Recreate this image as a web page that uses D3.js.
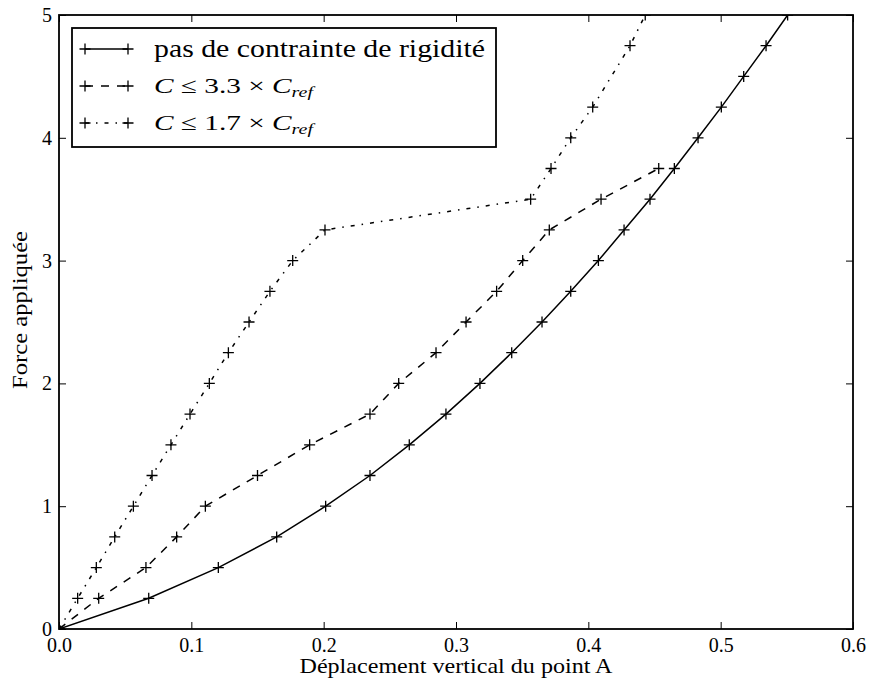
<!DOCTYPE html>
<html>
<head>
<meta charset="utf-8">
<script src="https://cdn.jsdelivr.net/npm/d3@7"></script>
<style>
  body { margin: 0; background: #fff; }
  text { font-family: "Liberation Serif", "DejaVu Serif", serif; fill: #000; }
</style>
</head>
<body>
<div id="chart"></div>
<script>
// data
const forceSolid = [0, 0.25, 0.5, 0.75, 1, 1.25, 1.5, 1.75, 2, 2.25, 2.5, 2.75, 3, 3.25, 3.5, 3.75, 4, 4.25, 4.5, 4.75, 5];
const dispSolid = [0, 0.0678, 0.1204, 0.1645, 0.2015, 0.235, 0.2647, 0.2924, 0.3181, 0.3421, 0.365, 0.3867, 0.4076, 0.427, 0.4466, 0.465, 0.4829, 0.5005, 0.5174, 0.5343, 0.5506];

const forceDashed = [0, 0.25, 0.5, 0.75, 1, 1.25, 1.5, 1.75, 2, 2.25, 2.5, 2.75, 3, 3.25, 3.5, 3.75];
const dispDashed = [0, 0.030, 0.0657, 0.0889, 0.1106, 0.150, 0.1894, 0.235, 0.2567, 0.2849, 0.3076, 0.3307, 0.3504, 0.3705, 0.4096, 0.4532];

const forceDashDot = [0, 0.25, 0.5, 0.75, 1, 1.25, 1.5, 1.75, 2, 2.25, 2.5, 2.75, 3, 3.25, 3.5, 3.75, 4, 4.25, 4.75, 5];
const dispDashDot = [0, 0.0141, 0.0282, 0.0421, 0.0562, 0.0703, 0.0846, 0.099, 0.1136, 0.128, 0.1436, 0.1594, 0.1766, 0.201, 0.3564, 0.3718, 0.3867, 0.4033, 0.4315, 0.443];

const xTicks = [0, 0.1, 0.2, 0.3, 0.4, 0.5, 0.6];
const yTicks = [0, 1, 2, 3, 4, 5];

const series = [
  { name: "solid", x: dispSolid, y: forceSolid, dash: null },
  { name: "dashed", x: dispDashed, y: forceDashed, dash: "8,8" },
  { name: "dashdot", x: dispDashDot, y: forceDashDot, dash: "4,7,1.5,7" }
];

const margin = { top: 15, right: 19, bottom: 63, left: 59 };
const width = 872 - margin.left - margin.right;
const height = 692 - margin.top - margin.bottom;

const svg = d3.select("#chart")
  .append("svg")
  .attr("width", 872)
  .attr("height", 692)
  .append("g")
  .attr("transform", `translate(${margin.left}, ${margin.top})`);

const xScale = d3.scaleLinear().domain([0, 0.6]).range([0, width]);
const yScale = d3.scaleLinear().domain([0, 5]).range([height, 0]);

svg.append("defs").append("clipPath")
  .attr("id", "plot-clip")
  .append("rect")
  .attr("width", width)
  .attr("height", height);

// axes, ticks pointing inward on all four sides
const xAxis = d3.axisBottom(xScale).tickValues(xTicks).tickFormat(d3.format(".1f"))
  .tickSizeInner(-7).tickSizeOuter(0).tickPadding(9);
const yAxis = d3.axisLeft(yScale).tickValues(yTicks).tickFormat(d3.format("d"))
  .tickSizeInner(-7).tickSizeOuter(0).tickPadding(7);

svg.append("g")
  .attr("transform", `translate(0, ${height})`)
  .call(xAxis);
svg.append("g").call(yAxis);
svg.append("g")
  .call(d3.axisTop(xScale).tickValues(xTicks).tickFormat("").tickSizeInner(-7).tickSizeOuter(0));
svg.append("g")
  .attr("transform", `translate(${width}, 0)`)
  .call(d3.axisRight(yScale).tickValues(yTicks).tickFormat("").tickSizeInner(-7).tickSizeOuter(0));

svg.selectAll(".domain").remove();
svg.selectAll(".tick line").attr("stroke", "#000").attr("stroke-width", 1);
svg.selectAll(".tick text")
  .style("font-family", "'Liberation Serif', serif")
  .style("font-size", "20px")
  .attr("fill", "#000");

// lines and markers
const line = d3.line()
  .x(d => xScale(d[0]))
  .y(d => yScale(d[1]));

const plus = "M-5.5,0H5.5M0,-5.5V5.5";

const plot = svg.append("g").attr("clip-path", "url(#plot-clip)");

series.forEach(s => {
  const pts = s.x.map((v, i) => [v, s.y[i]]);
  plot.append("path")
    .datum(pts)
    .attr("fill", "none")
    .attr("stroke", "#000")
    .attr("stroke-width", 1.5)
    .attr("stroke-dasharray", s.dash)
    .attr("d", line);
  plot.selectAll(null)
    .data(pts)
    .join("path")
    .attr("transform", d => `translate(${xScale(d[0])}, ${yScale(d[1])})`)
    .attr("d", plus)
    .attr("stroke", "#000")
    .attr("stroke-width", 1.3)
    .attr("fill", "none");
});

// frame
svg.append("rect")
  .attr("width", width)
  .attr("height", height)
  .attr("fill", "none")
  .attr("stroke", "#000")
  .attr("stroke-width", 1.8);

// axis labels
svg.append("text")
  .attr("x", width / 2)
  .attr("y", height + 44)
  .style("text-anchor", "middle")
  .style("font-size", "21px")
  .attr("textLength", 313)
  .attr("lengthAdjust", "spacingAndGlyphs")
  .text("Déplacement vertical du point A");

svg.append("text")
  .attr("transform", `translate(${27 - margin.left}, ${310 - margin.top}) rotate(-90)`)
  .style("text-anchor", "middle")
  .style("font-size", "21px")
  .attr("textLength", 158)
  .attr("lengthAdjust", "spacingAndGlyphs")
  .text("Force appliquée");

// legend
const legend = svg.append("g")
  .attr("transform", `translate(${72 - margin.left}, ${28 - margin.top})`);

legend.append("rect")
  .attr("width", 424)
  .attr("height", 119)
  .attr("fill", "#fff")
  .attr("stroke", "#000")
  .attr("stroke-width", 1.8);

const rowY = [21, 58, 95];
series.forEach((s, i) => {
  const g = legend.append("g").attr("transform", `translate(0, ${rowY[i]})`);
  g.append("line")
    .attr("x1", 13).attr("x2", 56)
    .attr("stroke", "#000")
    .attr("stroke-width", 1.5)
    .attr("stroke-dasharray", s.dash);
  [13, 56].forEach(px => {
    g.append("path")
      .attr("transform", `translate(${px}, 0)`)
      .attr("d", plus)
      .attr("stroke", "#000")
      .attr("stroke-width", 1.3);
  });
});

legend.append("text")
  .attr("x", 82)
  .attr("y", rowY[0] + 8)
  .style("font-size", "26px")
  .attr("textLength", 331)
  .attr("lengthAdjust", "spacingAndGlyphs")
  .text("pas de contrainte de rigidité");

const mathRows = [["3.3", rowY[1] + 7], ["1.7", rowY[2] + 7]];
mathRows.forEach(([k, y]) => {
  const t = legend.append("text")
    .attr("x", 82)
    .attr("y", y)
    .style("font-size", "22px")
    .attr("textLength", 159)
    .attr("lengthAdjust", "spacingAndGlyphs");
  t.append("tspan").style("font-style", "italic").text("C");
  t.append("tspan").text(` ≤ ${k} × `);
  t.append("tspan").style("font-style", "italic").text("C");
  t.append("tspan").style("font-style", "italic").style("font-size", "15px")
    .attr("dy", 4).text("ref");
});
</script>
</body>
</html>
